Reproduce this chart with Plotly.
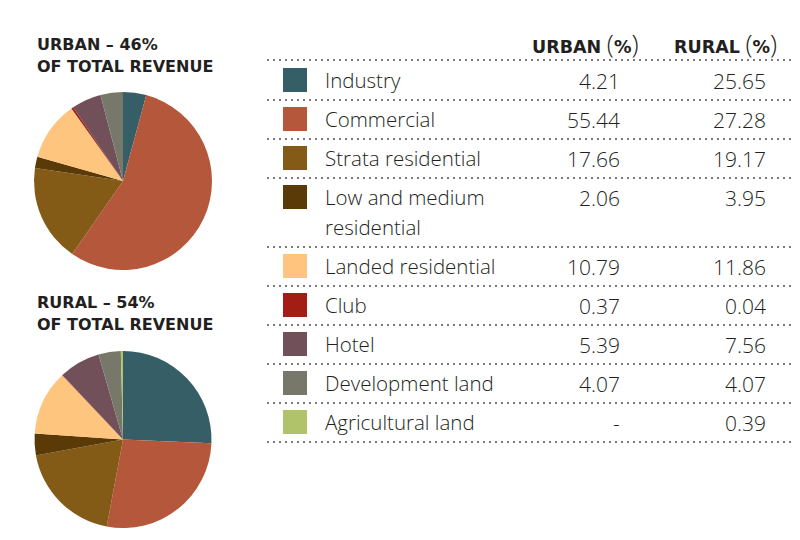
import plotly.graph_objects as go

# ---------------- data ----------------
categories = ["Industry", "Commercial", "Strata residential", "Low and medium residential",
              "Landed residential", "Club", "Hotel", "Development land", "Agricultural land"]
urban_pct = [4.21, 55.44, 17.66, 2.06, 10.79, 0.37, 5.39, 4.07, None]
rural_pct = [25.65, 27.28, 19.17, 3.95, 11.86, 0.04, 7.56, 4.07, 0.39]
colors = ["#355E67", "#B5573A", "#845A17", "#5A3B08", "#FEC57E",
          "#A21E15", "#72505A", "#77776A", "#B0C36A"]
urban_share = 46
rural_share = 54

W, H = 800, 540
TXT = "#231F20"
FONT = "Open Sans"
BOLD = "DejaVu Sans"

fig = go.Figure()

def dom(x0, x1, y0, y1):
    return dict(x=[x0 / W, x1 / W], y=[1 - y1 / H, 1 - y0 / H])

fig.add_trace(go.Pie(values=[v if v is not None else 0 for v in urban_pct], labels=categories,
                     marker=dict(colors=colors, line=dict(width=0)), sort=False,
                     direction="clockwise", rotation=0, textinfo="none", hoverinfo="label+value",
                     domain=dom(34, 212, 92, 270), showlegend=False))
fig.add_trace(go.Pie(values=rural_pct, labels=categories,
                     marker=dict(colors=colors, line=dict(width=0)), sort=False,
                     direction="clockwise", rotation=0, textinfo="none", hoverinfo="label+value",
                     domain=dom(34, 212, 351, 528), showlegend=False))

row_y = []
y = 80
for c in categories:
    row_y.append(y)
    y += 69 if c.startswith("Low and medium") else 39
sep_y = [60] + [r + 20 + (30 if c.startswith("Low and medium") else 0) for r, c in zip(row_y, categories)]

fig.add_trace(go.Scatter(x=[295] * len(categories), y=row_y, mode="markers",
                         marker=dict(symbol="square", size=24, color=colors, line=dict(width=0)),
                         hoverinfo="skip", showlegend=False))

fig.update_xaxes(range=[0, W], visible=False, fixedrange=True)
fig.update_yaxes(range=[H, 0], visible=False, fixedrange=True)

ann = []
def A(x, y, text, size, anchor="left", family=FONT, color=TXT, weight=None):
    f = dict(size=size, family=family, color=color)
    if weight:
        f["weight"] = weight
    ann.append(dict(x=x, y=y, xref="x", yref="y", text=text, showarrow=False,
                    xanchor=anchor, yanchor="middle", align=anchor, font=f))

# titles
A(35, 44, f"<b>URBAN – {urban_share}%</b>", 16, family=BOLD)
A(35, 66, "<b>OF TOTAL REVENUE</b>", 16, family=BOLD)
A(35, 302, f"<b>RURAL – {rural_share}%</b>", 16, family=BOLD)
A(35, 324, "<b>OF TOTAL REVENUE</b>", 16, family=BOLD)

# headers
hdr = "<b>{}</b> <span style='font-size:26px;font-family:Open Sans;font-weight:300'>(</span><b>%</b><span style='font-size:26px;font-family:Open Sans;font-weight:300'>)</span>"
A(641, 43, hdr.format("URBAN"), 17.5, anchor="right", family=BOLD)
A(779, 43, hdr.format("RURAL"), 17.5, anchor="right", family=BOLD)

for c, yy, u, r in zip(categories, row_y, urban_pct, rural_pct):
    if c.startswith("Low and medium"):
        A(323, yy, "Low and medium", 20.5, weight=350)
        A(323, yy + 30, "residential", 20.5, weight=350)
    else:
        A(323, yy, c, 20.5, weight=350)
    A(622, yy + 1, "-" if u is None else f"{u:.2f}", 21, anchor="right", weight=350)
    A(768, yy + 1, "-" if r is None else f"{r:.2f}", 21, anchor="right", weight=350)

shapes = [dict(type="line", xref="x", yref="y", x0=267, x1=793, y0=s, y1=s,
               line=dict(color="#7A7A7A", width=1.8, dash="2px,4px")) for s in sep_y]

fig.update_layout(width=W, height=H, margin=dict(l=0, r=0, t=0, b=0),
                  paper_bgcolor="white", plot_bgcolor="white",
                  annotations=ann, shapes=shapes)

fig.write_html("out.html", config={"displayModeBar": False},
               post_script="document.body.style.margin='0';document.body.style.overflow='hidden';")
